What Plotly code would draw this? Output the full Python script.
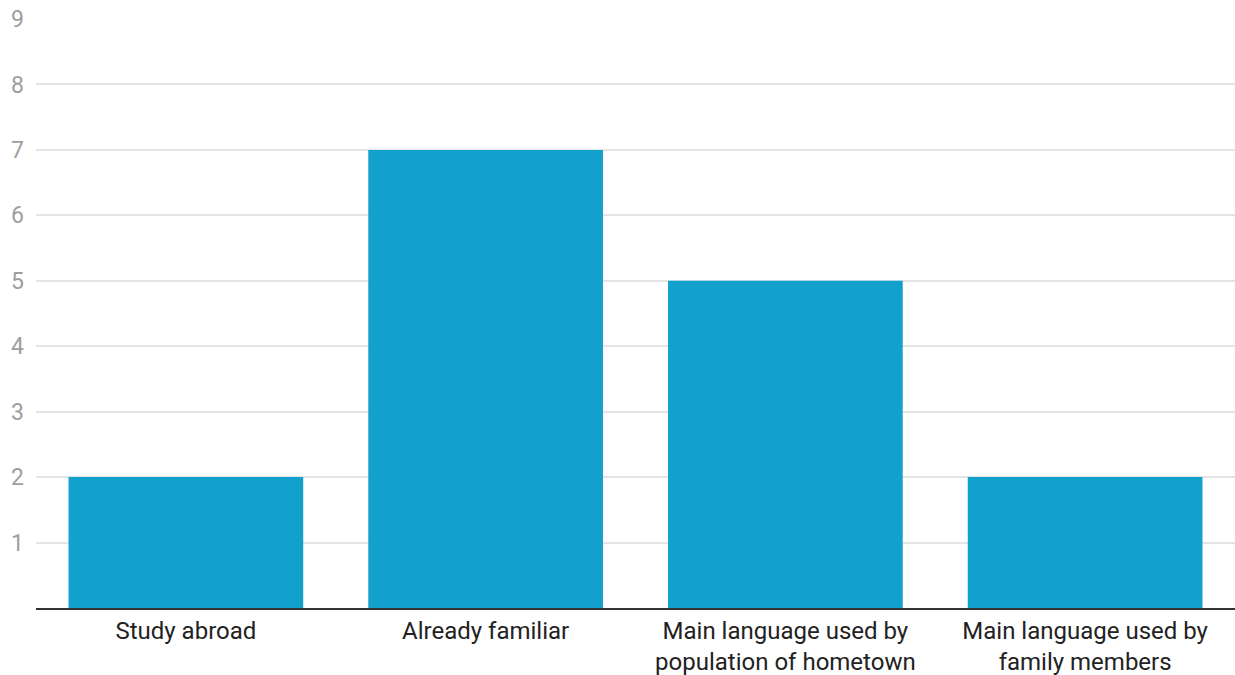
import plotly.graph_objects as go

# Reasons for choosing the language, counts of respondents
categories = [
    "Study abroad",
    "Already familiar",
    "Main language used by<br>population of hometown",
    "Main language used by<br>family members",
]
counts = [2, 7, 5, 2]
y_ticks = [1, 2, 3, 4, 5, 6, 7, 8, 9]

fig = go.Figure(
    go.Bar(
        x=categories,
        y=counts,
        marker=dict(color="#12a1cd", line=dict(width=0)),
        hoverinfo="x+y",
    )
)

fig.update_layout(
    width=1235,
    height=675,
    margin=dict(l=36, r=0, t=19, b=67),
    paper_bgcolor="white",
    plot_bgcolor="white",
    bargap=0.217,
    showlegend=False,
    font=dict(family="Roboto", size=24, color="#222222"),
)

fig.update_xaxes(
    showgrid=False,
    showline=True,
    linecolor="#333333",
    linewidth=2,
    ticks="",
    tickfont=dict(family="Roboto", size=24, color="#222222"),
    range=[-0.5, 3.5],
)

fig.update_yaxes(
    range=[0, 9],
    tickvals=y_ticks,
    showgrid=True,
    gridcolor="#e4e4e4",
    gridwidth=2,
    zeroline=False,
    ticks="",
    ticklabelstandoff=11,
    tickfont=dict(family="Roboto", size=23, color="#9e9e9e"),
)

fig.write_html("out.html")
